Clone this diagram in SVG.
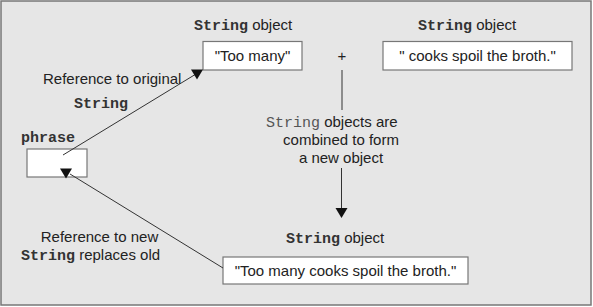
<svg xmlns="http://www.w3.org/2000/svg" xmlns:xlink="http://www.w3.org/1999/xlink" width="593" height="307" viewBox="0 0 593 307">
<style>
.sans{font-family:"Liberation Sans",Arial,sans-serif;font-size:15px;fill:#222}
.mono{font-family:"Liberation Mono","Courier New",monospace;font-size:15px;font-weight:bold;fill:#333}
.monol{font-family:"Liberation Mono","Courier New",monospace;font-size:15px;font-weight:normal;fill:#555}
.box{fill:#fff;stroke:#777;stroke-width:1.2}
.conn{stroke:#333;stroke-width:1;fill:none}
.head{fill:#111}
</style>
<defs>
<path id="ah" d="M-6,0 L6,0 L0,10 Z"/>
</defs>
<rect x="1" y="1" width="590" height="304" fill="#e6e6e6" stroke="#777" stroke-width="1.5"/>

<g id="node-too-many">
<text x="194" y="30"><tspan class="mono">String</tspan><tspan class="sans"> object</tspan></text>
<rect class="box" x="203" y="41.5" width="99" height="28.5"/>
<text class="sans" x="252.5" y="61" text-anchor="middle">"Too many"</text>
</g>

<g id="node-plus">
<text class="sans" x="342" y="61" text-anchor="middle">+</text>
</g>

<g id="node-cooks">
<text x="418" y="30"><tspan class="mono">String</tspan><tspan class="sans"> object</tspan></text>
<rect class="box" x="383" y="41.5" width="189" height="28.5"/>
<text class="sans" x="477.5" y="61" text-anchor="middle">" cooks spoil the broth."</text>
</g>

<g id="node-combine-label">
<text x="266" y="127"><tspan class="monol">String</tspan><tspan class="sans"> objects are</tspan></text>
<text class="sans" x="341" y="145" text-anchor="middle">combined to form</text>
<text class="sans" x="341" y="163" text-anchor="middle">a new object</text>
</g>

<g id="node-result">
<text x="286" y="243"><tspan class="mono">String</tspan><tspan class="sans"> object</tspan></text>
<rect class="box" x="223" y="257" width="245" height="27"/>
<text class="sans" x="345.5" y="276" text-anchor="middle">"Too many cooks spoil the broth."</text>
</g>

<g id="node-phrase">
<text class="mono" x="21" y="142">phrase</text>
<rect class="box" x="27" y="149" width="60" height="28"/>
</g>

<g id="label-original">
<text class="sans" x="43" y="84">Reference to original</text>
<text class="mono" x="74" y="108">String</text>
</g>

<g id="label-new">
<text class="sans" x="99.5" y="242" text-anchor="middle">Reference to new</text>
<text x="21" y="260"><tspan class="mono">String</tspan><tspan class="sans"> replaces old</tspan></text>
</g>

<g id="connectors">
<line class="conn" x1="63" y1="155" x2="196" y2="74"/>
<use class="head" xlink:href="#ah" x="197" y="69.5"/>
<line class="conn" x1="223" y1="268" x2="70" y2="174"/>
<use class="head" xlink:href="#ah" x="66" y="168.5"/>
<line class="conn" x1="342" y1="70" x2="342" y2="110"/>
<line class="conn" x1="341.5" y1="168" x2="341.5" y2="210"/>
<use class="head" xlink:href="#ah" x="341.5" y="208"/>
</g>
</svg>
